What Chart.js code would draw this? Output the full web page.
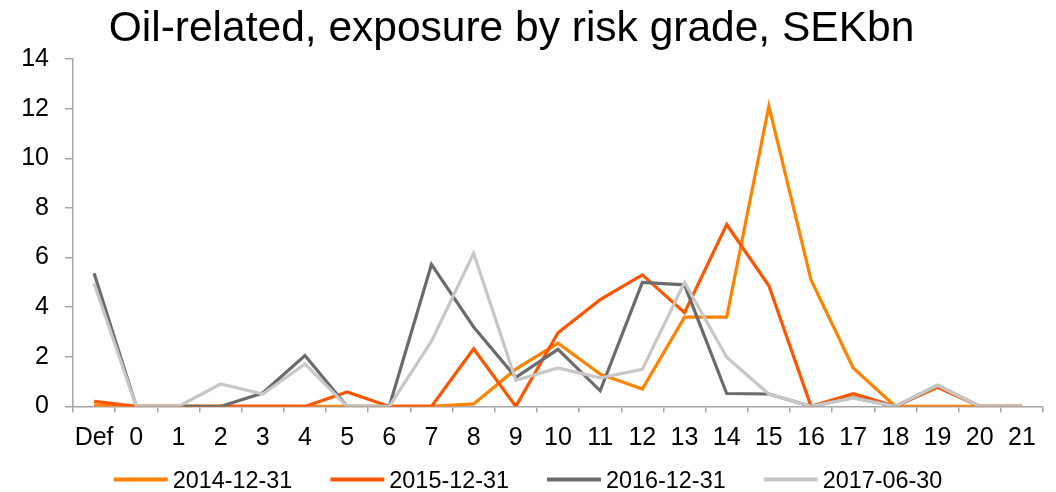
<!DOCTYPE html>
<html>
<head>
<meta charset="utf-8">
<script src="https://cdn.jsdelivr.net/npm/chart.js@4/dist/chart.umd.min.js"></script>
<style>
  html, body { margin: 0; padding: 0; background: #ffffff; }
  #wrap { width: 1056px; height: 492px; position: relative; }
</style>
</head>
<body>
<div id="wrap"><canvas id="c" width="1056" height="492"></canvas></div>
<script>
const titleText = 'Oil-related, exposure by risk grade, SEKbn';
const categories = ['Def','0','1','2','3','4','5','6','7','8','9','10','11','12','13','14','15','16','17','18','19','20','21'];
const seriesNames = ['2014-12-31','2015-12-31','2016-12-31','2017-06-30'];
const s2014 = [0.05, 0, 0, 0, 0, 0, 0, 0, 0, 0.1, 1.5, 2.55, 1.3, 0.7, 3.6, 3.6, 12.1, 5.1, 1.55, 0, 0, 0, 0];
const s2015 = [0.2, 0, 0, 0, 0, 0, 0.58, 0, 0, 2.32, 0, 2.97, 4.3, 5.3, 3.78, 7.33, 4.86, 0, 0.51, 0, 0.77, 0, 0];
const s2016 = [5.37, 0, 0, 0, 0.54, 2.05, 0, 0, 5.72, 3.2, 1.17, 2.3, 0.63, 5.0, 4.9, 0.52, 0.5, 0, 0.35, 0, 0.85, 0, 0];
const s2017 = [4.95, 0, 0, 0.9, 0.5, 1.71, 0, 0, 2.63, 6.17, 1.05, 1.55, 1.15, 1.49, 5.0, 1.98, 0.5, 0, 0.34, 0, 0.85, 0, 0];
const yTicks = [0, 2, 4, 6, 8, 10, 12, 14];

const colors = ['#FF8200', '#FF5500', '#6B6B6B', '#C9C7C4'];
const axisColor = '#A6A6A6';
const FONT = "'Liberation Sans', Arial, Helvetica, sans-serif";

const allSeries = [s2014, s2015, s2016, s2017];
const datasets = allSeries.map((d, i) => ({
  label: seriesNames[i],
  data: d,
  borderColor: colors[i],
  backgroundColor: colors[i],
  borderWidth: 3.2,
  pointRadius: 0,
  pointHoverRadius: 0,
  tension: 0,
  fill: false,
  order: 4 - i
}));

const titleAndLegend = {
  id: 'titleAndLegend',
  afterDraw(chart) {
    const ctx = chart.ctx;
    ctx.save();
    // title
    ctx.fillStyle = '#000000';
    ctx.font = '42.5px ' + FONT;
    ctx.textAlign = 'center';
    ctx.textBaseline = 'alphabetic';
    ctx.fillText(titleText, 511.5, 41);
    // legend
    ctx.font = '23.4px ' + FONT;
    ctx.textAlign = 'left';
    const lineW = 54, gapText = 5, gapItem = 38;
    const ds = chart.data.datasets;
    const widths = ds.map(d => lineW + gapText + ctx.measureText(d.label).width);
    const total = widths.reduce((a, b) => a + b, 0) + gapItem * (ds.length - 1);
    let x = 528 - total / 2;
    ds.forEach((d, i) => {
      ctx.fillStyle = d.borderColor;
      ctx.fillRect(x, 477.5, lineW, 4);
      ctx.fillStyle = '#000000';
      ctx.fillText(d.label, x + lineW + gapText, 488);
      x += widths[i] + gapItem;
    });
    ctx.restore();
  }
};

new Chart(document.getElementById('c'), {
  type: 'line',
  data: { labels: categories, datasets },
  options: {
    responsive: false,
    animation: false,
    devicePixelRatio: 1,
    layout: { padding: { top: 59, left: 0, right: 13, bottom: 27.6 } },
    plugins: {
      legend: { display: false },
      title: { display: false },
      tooltip: { enabled: false }
    },
    scales: {
      x: {
        type: 'category',
        offset: true,
        border: { display: true, color: axisColor, width: 1.5 },
        grid: { display: true, offset: true, drawOnChartArea: false, drawTicks: true, tickLength: 6, color: axisColor, lineWidth: 1.5 },
        ticks: { color: '#000000', font: { family: FONT, size: 25 }, padding: 11, maxRotation: 0, autoSkip: false }
      },
      y: {
        min: 0,
        max: 14,
        afterFit(scale) { scale.width = 73; },
        afterBuildTicks(scale) { scale.ticks = yTicks.map(v => ({ value: v })); },
        border: { display: true, color: axisColor, width: 1.5 },
        grid: { display: true, drawOnChartArea: false, drawTicks: true, tickLength: 8, color: axisColor, lineWidth: 1.5 },
        ticks: { color: '#000000', font: { family: FONT, size: 25 }, padding: 16 }
      }
    }
  },
  plugins: [titleAndLegend]
});
</script>
</body>
</html>
